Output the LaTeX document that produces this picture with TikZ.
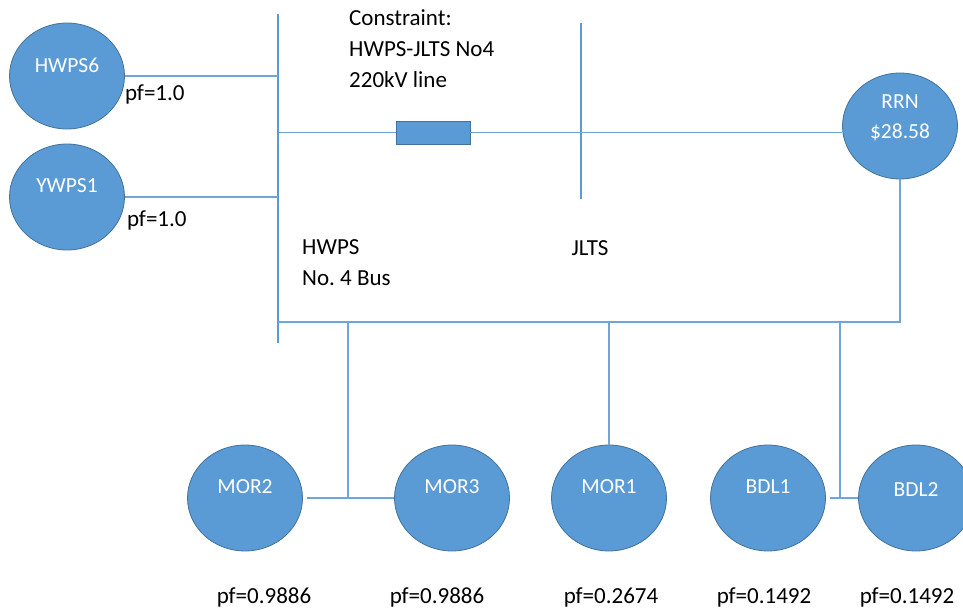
\documentclass[tikz,border=0pt]{standalone}
\usepackage{fontspec}
\setmainfont{Carlito}
\usetikzlibrary{positioning,shapes.geometric}
\definecolor{nodeblue}{HTML}{5B9BD5}
\definecolor{edgeblue}{HTML}{41719C}
\definecolor{lineblue}{HTML}{6FA6DA}

\begin{document}
\begin{tikzpicture}[x=1pt,y=-1pt,node distance=121pt,
	n/.style={draw=edgeblue,fill=nodeblue,ellipse,inner sep=0pt,minimum width=115pt,minimum height=106pt,line width=0.8pt},
	w/.style={text=white,font=\fontsize{21.5}{30}\selectfont,inner sep=0pt},
	txt/.style={font=\fontsize{23}{31}\selectfont,inner sep=0pt,align=left},
	bus/.style={draw=nodeblue,line width=2.6pt},
	ln/.style={draw=lineblue,line width=1.5pt}]
	\useasboundingbox (0,0) rectangle (963,612);
	%gen
	\node(h6)[n,label={[w,yshift=11pt]center:HWPS6},label={[name=t1,txt,anchor=west,yshift=-18pt]0:pf=1.0}] at (67,76) {};
	\node(y1)[n,below of=h6,label={[w,yshift=11pt]center:YWPS1},label={[name=t2,txt,anchor=west,xshift=2pt,yshift=-23pt]0:pf=1.0}]{};
	%buses
	\coordinate (b1t) at (278,14);
	\coordinate (b1b) at (278,343);
	\coordinate (b2t) at (581,23);
	\coordinate (b2b) at (581,199);
	\draw[bus] (b1t) -- (b1b);
	\draw[bus] (b2t) -- (b2b);
	\node(con)[txt,anchor=west] at (349,48.5) {Constraint:\\HWPS-JLTS No4\\220kV line};
	\node(hb)[txt,anchor=west] at (302,263) {HWPS\\No.\ 4 Bus};
	\node(jl)[txt] at (590,248) {JLTS};
	%line
	\node(cl)[draw=edgeblue,fill=nodeblue,minimum width=74pt,minimum height=23pt,inner sep=0pt,line width=0.8pt] at (433,132.5) {};
	\node(rrn)[n,label={[w,align=center,yshift=8pt]center:RRN\\\$28.58}] at (900,126) {};
	\draw[ln] (h6.east) -- (h6.east -| b1t);
	\draw[ln] (y1.east) -- (y1.east -| b1t);
	\draw[ln] (cl.west -| b1t) -- (cl.west);
	\draw[ln] (cl.east) -- (cl.east -| rrn.west);
	%loads
	\node(m2)[n,label={[w,yshift=11pt]center:MOR2},label={[name=p1,txt,xshift=19pt,label distance=36pt]below:pf=0.9886}] at (245,498) {};
	\node(m3)[n,label={[w,yshift=11pt]center:MOR3},label={[name=p2,txt,xshift=-15pt,label distance=36pt]below:pf=0.9886}] at (452,498) {};
	\node(m1)[n,label={[w,yshift=11pt]center:MOR1},label={[name=p3,txt,xshift=2pt,label distance=36pt]below:pf=0.2674}] at (609,498) {};
	\node(b1)[n,label={[w,yshift=11pt]center:BDL1},label={[name=p4,txt,xshift=-4pt,label distance=36pt]below:pf=0.1492}] at (768,498) {};
	\node(b2)[n,label={[w,yshift=8pt]center:BDL2},label={[name=p5,txt,xshift=-9pt,label distance=36pt]below:pf=0.1492}] at (916,498) {};
	\coordinate (j0) at (278,322);
	\coordinate (k1) at (348,322);
	\coordinate (k2) at (840,322);
	\draw[ln] (j0) -| (rrn.south);
	\draw[ln] (k1) -- (k1 |- m2.east);
	\draw[ln,shorten <=4pt] (m2.east) -- (m3.west);
	\draw[ln] (m1 |- j0) -- (m1.north);
	\draw[ln] (k2) -- (k2 |- b2.west);
	\draw[ln,shorten <=4pt] (b1.east) -- (b2.west);
\end{tikzpicture}
\end{document}
